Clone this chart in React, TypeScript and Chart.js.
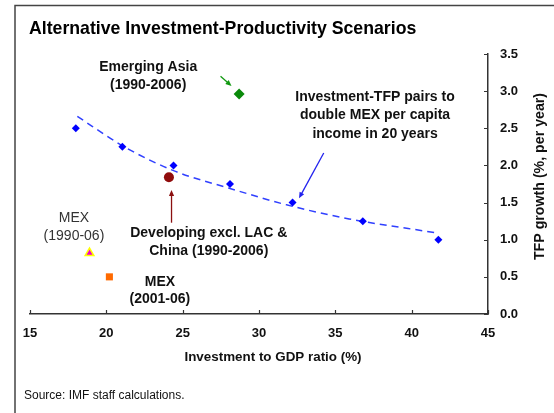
import React, { useEffect, useRef } from "react";
import { Chart, registerables } from "chart.js";

Chart.register(...registerables);

// ---- Data ----
const frontierInvestment = [18.0, 21.05, 24.4, 28.1, 32.2, 36.8, 41.75];
const frontierTFP = [2.5, 2.25, 2.0, 1.75, 1.5, 1.25, 1.0];
const trendInvestment = [18.1, 21.1, 24.4, 28.1, 31.8, 35.9, 41.7];
const trendTFP = [2.66, 2.26, 1.93, 1.69, 1.47, 1.28, 1.09];
const emergingAsia = { x: 28.7, y: 2.96 };
const developingExLAC = { x: 24.1, y: 1.84 };
const mex9006 = { x: 18.9, y: 0.82 };
const mex0106 = { x: 20.2, y: 0.5 };
const xTickValues = [15, 20, 25, 30, 35, 40, 45];
const yTickValues = [0, 0.5, 1.0, 1.5, 2.0, 2.5, 3.0, 3.5];

const FONT = "'Liberation Sans', Arial, Helvetica, sans-serif";

type Note = {
  lines: string[];
  x: number;
  y: number;
  bold: boolean;
  color: string;
};

const notes: Note[] = [
  { lines: ["Emerging Asia", "(1990-2006)"], x: 22.74, y: 3.32, bold: true, color: "#111" },
  { lines: ["Investment-TFP pairs to", "double MEX per capita", "income in 20 years"], x: 37.6, y: 2.925, bold: true, color: "#111" },
  { lines: ["Developing excl. LAC &", "China (1990-2006)"], x: 26.71, y: 1.086, bold: true, color: "#111" },
  { lines: ["MEX", "(1990-06)"], x: 17.88, y: 1.288, bold: false, color: "#333" },
  { lines: ["MEX", "(2001-06)"], x: 23.51, y: 0.435, bold: true, color: "#111" },
];

const arrows = [
  { from: { x: 27.48, y: 3.2 }, to: { x: 28.2, y: 3.07 }, color: "#119911" },
  { from: { x: 34.24, y: 2.167 }, to: { x: 32.62, y: 1.557 }, color: "#2222ee" },
  { from: { x: 24.27, y: 1.229 }, to: { x: 24.27, y: 1.669 }, color: "#8b1010" },
];

function drawArrow(ctx: CanvasRenderingContext2D, x1: number, y1: number, x2: number, y2: number, color: string) {
  const ang = Math.atan2(y2 - y1, x2 - x1);
  const head = 6;
  const half = 2.6;
  ctx.save();
  ctx.strokeStyle = color;
  ctx.fillStyle = color;
  ctx.lineWidth = 1.3;
  ctx.beginPath();
  ctx.moveTo(x1, y1);
  ctx.lineTo(x2 - Math.cos(ang) * head * 0.8, y2 - Math.sin(ang) * head * 0.8);
  ctx.stroke();
  ctx.beginPath();
  ctx.moveTo(x2, y2);
  const bx = x2 - Math.cos(ang) * head;
  const by = y2 - Math.sin(ang) * head;
  ctx.lineTo(bx + Math.sin(ang) * half, by - Math.cos(ang) * half);
  ctx.lineTo(bx - Math.sin(ang) * half, by + Math.cos(ang) * half);
  ctx.closePath();
  ctx.fill();
  ctx.restore();
}

const decorPlugin = {
  id: "decor",
  afterDraw(chart: any) {
    const ctx: CanvasRenderingContext2D = chart.ctx;
    const xs = chart.scales.x;
    const ys = chart.scales.y;
    const area = chart.chartArea;
    ctx.save();

    // frame
    ctx.strokeStyle = "#444";
    ctx.lineWidth = 1.5;
    ctx.beginPath();
    ctx.moveTo(15, 413);
    ctx.lineTo(15, 5.5);
    ctx.lineTo(554, 5.5);
    ctx.stroke();

    // inward tick marks
    ctx.strokeStyle = "#333";
    ctx.lineWidth = 1.2;
    ctx.beginPath();
    xTickValues.forEach((v) => {
      const px = Math.round(xs.getPixelForValue(v)) + 0.5;
      ctx.moveTo(px, area.bottom);
      ctx.lineTo(px, area.bottom - 4);
    });
    yTickValues.forEach((v) => {
      const py = Math.round(ys.getPixelForValue(v)) + 0.5;
      ctx.moveTo(area.right, py);
      ctx.lineTo(area.right - 4, py);
    });
    ctx.stroke();

    // title
    ctx.fillStyle = "#000";
    ctx.textBaseline = "middle";
    ctx.textAlign = "left";
    ctx.font = `bold 17.7px ${FONT}`;
    ctx.fillText("Alternative Investment-Productivity Scenarios", 29, 29);

    // source
    ctx.font = `12px ${FONT}`;
    ctx.fillStyle = "#111";
    ctx.fillText("Source: IMF staff calculations.", 24, 396);

    // axis titles
    ctx.textAlign = "center";
    ctx.font = `bold 13.4px ${FONT}`;
    ctx.fillStyle = "#111";
    ctx.fillText("Investment to GDP ratio (%)", 273, 357);
    ctx.save();
    ctx.translate(540, 176.5);
    ctx.rotate(-Math.PI / 2);
    ctx.font = `bold 14.2px ${FONT}`;
    ctx.fillText("TFP growth (%, per year)", 0, 0);
    ctx.restore();

    // annotations
    notes.forEach((n) => {
      ctx.font = `${n.bold ? "bold " : ""}14px ${FONT}`;
      ctx.fillStyle = n.color;
      const cx = xs.getPixelForValue(n.x);
      const cy = ys.getPixelForValue(n.y);
      const lh = n.lines.length > 2 ? 18.8 : 17.5;
      n.lines.forEach((l, i) => ctx.fillText(l, cx, cy + i * lh));
    });

    arrows.forEach((a) => {
      drawArrow(
        ctx,
        xs.getPixelForValue(a.from.x),
        ys.getPixelForValue(a.from.y),
        xs.getPixelForValue(a.to.x),
        ys.getPixelForValue(a.to.y),
        a.color
      );
    });
    ctx.restore();
  },
};

export default function App() {
  const ref = useRef<HTMLCanvasElement | null>(null);
  useEffect(() => {
    if (!ref.current) return;
    const chart = new Chart(ref.current, {
      type: "scatter",
      data: {
        datasets: [
          {
            type: "line",
            label: "trend",
            data: trendInvestment.map((x, i) => ({ x, y: trendTFP[i] })),
            borderColor: "#3040ff",
            borderWidth: 1.5,
            borderDash: [7, 5],
            pointRadius: 0,
            fill: false,
            tension: 0.4,
            cubicInterpolationMode: "monotone",
            order: 2,
          } as any,
          {
            label: "frontier",
            data: frontierInvestment.map((x, i) => ({ x, y: frontierTFP[i] })),
            pointStyle: "rectRot",
            pointRadius: 4,
            backgroundColor: "#0000ff",
            borderColor: "#0000ff",
            borderWidth: 0,
            order: 1,
          },
          {
            label: "Emerging Asia",
            data: [emergingAsia],
            pointStyle: "rectRot",
            pointRadius: 5.5,
            backgroundColor: "#0a8a0a",
            borderColor: "#0a8a0a",
            borderWidth: 0,
          },
          {
            label: "Developing excl. LAC & China",
            data: [developingExLAC],
            pointStyle: "circle",
            pointRadius: 5,
            backgroundColor: "#900c0c",
            borderColor: "#900c0c",
            borderWidth: 0,
          },
          {
            label: "MEX 1990-06",
            data: [mex9006],
            pointStyle: "triangle",
            pointRadius: 5,
            backgroundColor: "#ee00cc",
            borderColor: "#ffff00",
            borderWidth: 1.5,
          },
          {
            label: "MEX 2001-06",
            data: [mex0106],
            pointStyle: "rect",
            pointRadius: 5,
            backgroundColor: "#ff6a00",
            borderColor: "#ff6a00",
            borderWidth: 0,
          },
        ],
      },
      options: {
        animation: false,
        responsive: false,
        devicePixelRatio: 1,
        layout: { padding: { left: 30, top: 54, right: 0, bottom: 0 } },
        plugins: {
          legend: { display: false },
          tooltip: { enabled: false },
          title: { display: false },
        },
        scales: {
          x: {
            type: "linear",
            position: "bottom",
            min: 15,
            max: 45,
            grid: { display: false, drawTicks: false },
            border: { display: true, color: "#333", width: 1.5 },
            afterFit: (s: any) => {
              s.height = 99;
            },
            afterBuildTicks: (s: any) => {
              s.ticks = xTickValues.map((v) => ({ value: v }));
            },
            ticks: {
              color: "#111",
              font: { family: FONT, size: 13, weight: "bold" },
              padding: 12,
              maxRotation: 0,
              autoSkip: false,
            },
          },
          y: {
            type: "linear",
            position: "right",
            min: 0,
            max: 3.5,
            grid: { display: false, drawTicks: false },
            border: { display: true, color: "#333", width: 1.5 },
            afterFit: (s: any) => {
              s.width = 66;
            },
            afterBuildTicks: (s: any) => {
              s.ticks = yTickValues.map((v) => ({ value: v }));
            },
            ticks: {
              color: "#111",
              font: { family: FONT, size: 13, weight: "bold" },
              padding: 12,
              autoSkip: false,
              callback: (v: any) => Number(v).toFixed(1),
            },
          },
        },
      } as any,
      plugins: [decorPlugin],
    });
    return () => chart.destroy();
  }, []);

  return (
    <div style={{ position: "absolute", left: 0, top: 0, width: 554, height: 413, background: "#fff" }}>
      <canvas ref={ref} width={554} height={413} style={{ width: 554, height: 413, display: "block" }} />
    </div>
  );
}
